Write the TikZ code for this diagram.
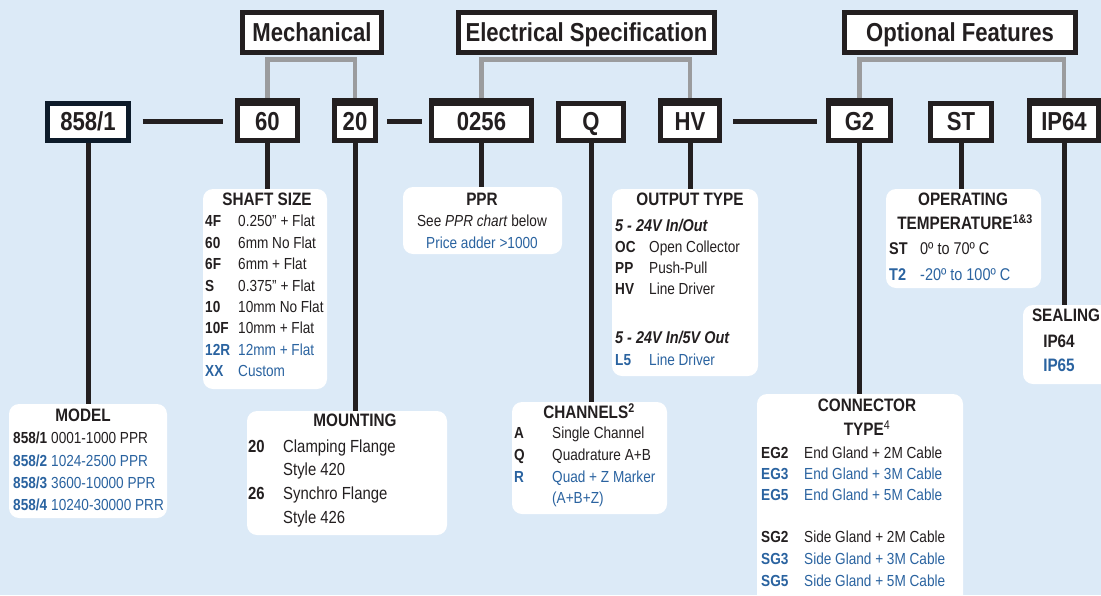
\documentclass[tikz,border=0pt]{standalone}
\usepackage{fontspec}
\setmainfont[FakeStretch=0.85]{Liberation Sans}
\definecolor{bg}{HTML}{DCEAF7}
\definecolor{ink}{HTML}{231F20}
\definecolor{navy}{HTML}{0D1B2A}
\definecolor{blu}{HTML}{2A63A0}
\definecolor{gry}{HTML}{9B9C9E}
\newcommand\myfs[1]{\fontsize{#1}{#1}\selectfont}
\newcommand\inch{\char34\relax}
\tikzset{
 codebox/.style={draw=ink, line width=5pt, fill=white, inner sep=0pt, minimum height=37pt,
   text height=18.7pt, text depth=0pt, font=\myfs{26}\bfseries, text=ink},
 headbox/.style={codebox, minimum height=40pt},
 panel/.style={fill=white, rounded corners=10pt, inner sep=0pt},
 conn/.style={draw=ink, line width=5pt},
 gconn/.style={draw=gry, line width=4.5pt},
 txt/.style={inner sep=0pt, anchor=base west, font=\myfs{16}, text=ink},
 txb/.style={txt, font=\myfs{16}\bfseries},
 hd/.style={inner sep=0pt, anchor=base, font=\myfs{18}\bfseries, text=ink},
}
\begin{document}
\begin{tikzpicture}[x=1pt,y=-1pt]
\useasboundingbox (0,0) rectangle (1101,595);
\fill[bg] (0,0) rectangle (1101,595);

% header boxes
\node[headbox, minimum width=139pt] (hmech) at (312,32.5) {Mechanical};
\node[headbox, minimum width=256pt] (helec) at (586.5,32.5) {Electrical Specification};
\node[headbox, minimum width=231pt] (hopt) at (960,32.5) {Optional Features};

% code boxes
\node[codebox, draw=navy, minimum width=81pt] (c858) at (88,121.5) {858/1};
\node[codebox, minimum width=60pt] (c60) at (267.5,121.5) {60};
\node[codebox, minimum width=41pt] (c20) at (355,121.5) {20};
\node[codebox, minimum width=100pt] (c0256) at (481.5,121.5) {0256};
\node[codebox, minimum width=65pt] (cQ) at (591,121.5) {Q};
\node[codebox, minimum width=59pt] (cHV) at (690,121.5) {HV};
\node[codebox, minimum width=62pt] (cG2) at (859.5,121.5) {G2};
\node[codebox, minimum width=61pt] (cST) at (961,121.5) {ST};
\node[codebox, minimum width=69pt] (cIP) at (1064,121.5) {IP64};

% gray brackets
\coordinate (gy) at (0,59.5);
\draw[gconn] (c60.north) -- (c60.north |- gy) -- (c20.north |- gy) -- (c20.north);
\draw[gconn] (c0256.north) -- (c0256.north |- gy) -- (cHV.north |- gy) -- (cHV.north);
\draw[gconn] (cG2.north) -- (cG2.north |- gy) -- (cIP.north |- gy) -- (cIP.north);
% redraw code box tops over the gray ends
\foreach \n in {c60,c20,c0256,cHV,cG2,cIP}{\draw[draw=ink,line width=5pt] (\n.north west) -- (\n.north east);}

% horizontal connectors
\draw[conn, shorten <=11.5pt, shorten >=12.5pt] (c858.east) -- (c60.west);
\draw[conn, shorten <=9pt, shorten >=7.5pt] (c20.east) -- (c0256.west);
\draw[conn, shorten <=11pt, shorten >=9pt] (cHV.east) -- (cG2.west);

% panels
\node[panel, minimum width=158pt, minimum height=114pt] (pmodel) at (88,461) {};
\node[panel, minimum width=124pt, minimum height=200pt] (pshaft) at (265,289) {};
\node[panel, minimum width=200pt, minimum height=124pt] (pmount) at (347,473) {};
\node[panel, minimum width=159pt, minimum height=67pt] (pppr) at (482.5,220.5) {};
\node[panel, minimum width=155pt, minimum height=112pt] (pchan) at (589.5,458) {};
\node[panel, minimum width=146pt, minimum height=187pt] (pout) at (685,282.5) {};
\node[panel, minimum width=206pt, minimum height=216pt] (pconn) at (860,502) {};
\node[panel, minimum width=155pt, minimum height=99pt] (ptemp) at (963.5,238.5) {};
\node[panel, minimum width=97pt, minimum height=79pt] (pseal) at (1071.5,344.5) {};

% vertical connectors
\draw[conn] (c858.south) -- (c858.south |- pmodel.north);
\draw[conn] (c60.south) -- (c60.south |- pshaft.north);
\draw[conn] (c20.south) -- (c20.south |- pmount.north);
\draw[conn] (c0256.south) -- (c0256.south |- pppr.north);
\draw[conn] (cQ.south) -- (cQ.south |- pchan.north);
\draw[conn] (cHV.south) -- (cHV.south |- pout.north);
\draw[conn] (cG2.south) -- (cG2.south |- pconn.north);
\draw[conn] (cST.south) -- (cST.south |- ptemp.north);
\draw[conn] (cIP.south) -- (cIP.south |- pseal.north);

% SHAFT SIZE
\node[hd] (shh) at (267,205.5) {SHAFT SIZE};
\foreach \y/\c/\d/\col [count=\i] in {221/4F/{0.250\inch{} + Flat}/ink, 242.4/60/{6mm No Flat}/ink,
  263.8/6F/{6mm + Flat}/ink, 285.2/S/{0.375\inch{} + Flat}/ink, 306.6/10/{10mm No Flat}/ink,
  328/10F/{10mm + Flat}/ink, 349.4/12R/{12mm + Flat}/blu, 370.8/XX/{Custom}/blu}{
  \node[txb, text=\col] (shc\i) at (205,\y+5.8) {\c};
  \node[txt, text=\col] (shd\i) at (238,\y+5.8) {\d};
}

% PPR
\node[hd] (pph) at (482,205.5) {PPR};
\node[txt, anchor=base] (pp1) at (482,226.8) {See \textit{PPR chart} below};
\node[txt, anchor=base, text=blu] (pp2) at (482,248.8) {Price adder >1000};

% OUTPUT TYPE
\node[hd] (ouh) at (690,205.5) {OUTPUT TYPE};
\node[txt, font=\myfs{17}\bfseries\itshape] (ou1) at (615,231.2) {5 - 24V In/Out};
\foreach \y/\c/\d/\col [count=\i] in {247/OC/{Open Collector}/ink, 268/PP/{Push-Pull}/ink,
  288.5/HV/{Line Driver}/ink}{
  \node[txb, text=\col] (ouc\i) at (615,\y+5.8) {\c};
  \node[txt, text=\col] (oud\i) at (649,\y+5.8) {\d};
}
\node[txt, font=\myfs{17}\bfseries\itshape] (ou2) at (615,343.2) {5 - 24V In/5V Out};
\node[txb, text=blu] (ouc4) at (615,365.8) {L5};
\node[txt, text=blu] (oud4) at (649,365.8) {Line Driver};

% OPERATING TEMPERATURE
\node[hd] (teh1) at (963,205.5) {OPERATING};
\node[hd] (teh2) at (965,229.5) {TEMPERATURE\textsuperscript{1\&3}};
\node[txb, font=\myfs{17}\bfseries] (tec1) at (889,254.2) {ST};
\node[txt, font=\myfs{17}] (ted1) at (920,254.2) {0º to 70º C};
\node[txb, font=\myfs{17}\bfseries, text=blu] (tec2) at (889,280.2) {T2};
\node[txt, font=\myfs{17}, text=blu] (ted2) at (920,280.2) {-20º to 100º C};

% SEALING
\node[hd] (seh) at (1066,321.5) {SEALING};
\node[hd] (se1) at (1059,347.5) {IP64};
\node[hd, text=blu] (se2) at (1059,371.5) {IP65};

% MODEL
\node[hd] (moh) at (83,421.5) {MODEL};
\foreach \y/\c/\d/\col [count=\i] in {438/{858/1}/{0001-1000 PPR}/ink, 460.5/{858/2}/{1024-2500 PPR}/blu,
  483/{858/3}/{3600-10000 PPR}/blu, 505/{858/4}/{10240-30000 PRR}/blu}{
  \node[txb, text=\col] (moc\i) at (13,\y+5.8) {\c};
  \node[txt, text=\col] (mod\i) at (51,\y+5.8) {\d};
}

% MOUNTING
\node[hd] (mnh) at (355,426.5) {MOUNTING};
\node[txb, font=\myfs{17.5}\bfseries] (mnc1) at (248,452.3) {20};
\node[txt, font=\myfs{17.5}] (mnd1) at (283,452.3) {Clamping Flange};
\node[txt, font=\myfs{17.5}] (mnd2) at (283,475.3) {Style 420};
\node[txb, font=\myfs{17.5}\bfseries] (mnc2) at (248,499.3) {26};
\node[txt, font=\myfs{17.5}] (mnd3) at (283,499.3) {Synchro Flange};
\node[txt, font=\myfs{17.5}] (mnd4) at (283,523.3) {Style 426};

% CHANNELS
\node[hd] (chh) at (589,418.5) {CHANNELS\textsuperscript{2}};
\foreach \y/\c/\d/\col [count=\i] in {433/A/{Single Channel}/ink, 455/Q/{Quadrature A+B}/ink,
  477/R/{Quad + Z Marker}/blu}{
  \node[txb, text=\col] (chc\i) at (514,\y+5.8) {\c};
  \node[txt, text=\col] (chd\i) at (552,\y+5.8) {\d};
}
\node[txt, text=blu] (chd4) at (552,503.8) {(A+B+Z)};

% CONNECTOR TYPE
\node[hd] (coh1) at (867,411.5) {CONNECTOR};
\node[hd] (coh2) at (867,435.5) {TYPE\textsuperscript{\mdseries 4}};
\foreach \y/\c/\d/\col [count=\i] in {452.5/EG2/{End Gland + 2M Cable}/ink, 473.5/EG3/{End Gland + 3M Cable}/blu,
  495/EG5/{End Gland + 5M Cable}/blu, 537/SG2/{Side Gland + 2M Cable}/ink,
  558.5/SG3/{Side Gland + 3M Cable}/blu, 580.5/SG5/{Side Gland + 5M Cable}/blu}{
  \node[txb, text=\col] (coc\i) at (761,\y+5.8) {\c};
  \node[txt, text=\col] (cod\i) at (804,\y+5.8) {\d};
}
\end{tikzpicture}
\end{document}
